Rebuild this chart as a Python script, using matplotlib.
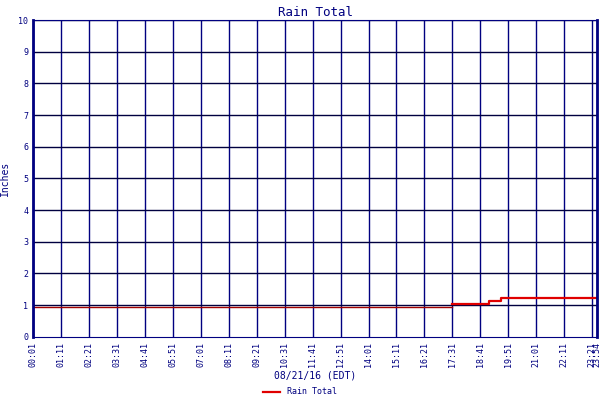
import matplotlib
matplotlib.use("Agg")
import matplotlib.pyplot as plt

# minutes since midnight, rain total in inches
early_t = [1, 1051]
early_v = [0.93, 0.93]
late_t = [1051, 1142, 1172, 1413]
late_v = [1.03, 1.12, 1.21, 1.21]

tick_mins = list(range(1, 1413, 70)) + [1413]
tick_labels = ["%02d:%02d" % (m // 60, m % 60) for m in tick_mins[:-1]] + ["23:54"]

navy = "#000080"
plt.rcParams["font.family"] = "DejaVu Sans Mono"

fig = plt.figure(figsize=(6, 4), dpi=100)
ax = fig.add_axes([0.055, 0.158, 0.94, 0.792])

for m in tick_mins:
    ax.axvline(m, color=navy, lw=1)
for y in range(1, 11):
    ax.axhline(y, color="#000040", lw=1)

ax.plot(early_t, early_v, color="#a00000", lw=1, drawstyle="steps-post")
ax.plot(late_t, late_v, color="#e00000", lw=1.6, drawstyle="steps-post", label="Rain Total")

ax.set_xlim(1, 1413)
ax.set_ylim(0, 10)
ax.set_xticks(tick_mins)
ax.set_xticklabels(tick_labels, rotation=90, fontsize=6, color=navy)
ax.set_yticks(range(0, 11))
ax.tick_params(axis="y", labelsize=6, labelcolor=navy, length=0)
ax.tick_params(axis="x", length=0)
for s in ax.spines.values():
    s.set_color(navy)
ax.spines["left"].set_linewidth(2)
ax.spines["right"].set_linewidth(2)
ax.set_title("Rain Total", color=navy, fontsize=9, pad=3)
ax.set_ylabel("Inches", color=navy, fontsize=7, labelpad=6)
ax.set_xlabel("08/21/16 (EDT)", color=navy, fontsize=7, labelpad=3)
fig.legend(loc="lower center", bbox_to_anchor=(0.5, -0.01), frameon=False,
           fontsize=6, labelcolor=navy, handlelength=2)

fig.savefig("out.png", dpi=100)
